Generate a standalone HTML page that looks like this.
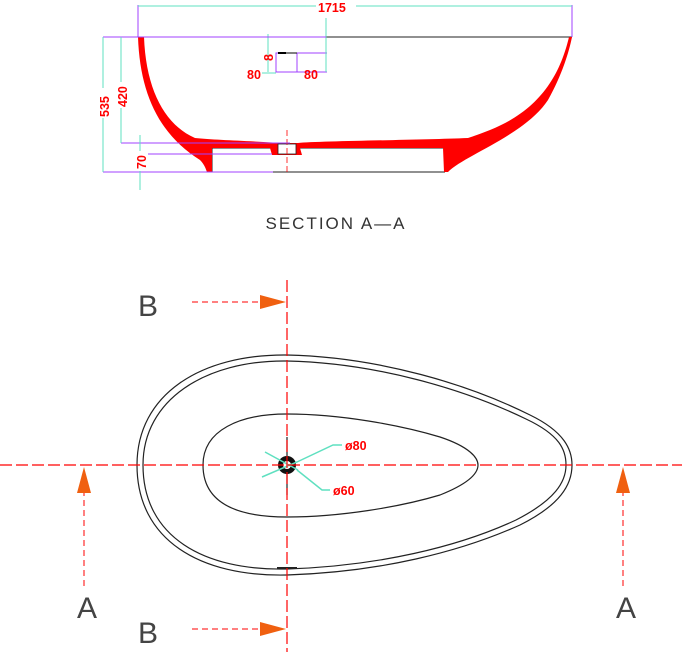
<!DOCTYPE html>
<html><head><meta charset="utf-8"><style>
html,body{margin:0;padding:0;background:#fff;}
svg{display:block;}
text{font-family:"Liberation Sans",sans-serif;}
.d{font-weight:bold;fill:#f00;font-size:12.5px;}
</style></head><body>
<svg width="682" height="652" viewBox="0 0 682 652" xmlns="http://www.w3.org/2000/svg">
<g fill="none" stroke-width="1">
 <line x1="138" y1="37" x2="572" y2="37" stroke="#222"/>
 <line x1="273" y1="172" x2="445" y2="172" stroke="#222"/>
 <path d="M212,148 L212,172 M445,148 L445,172 M212,148 L272,148 M300,148 L445,148" stroke="#222"/>
</g>
<path d="M138,37 C140,95 160,135 200,160 C205,165 206,170 207,172 L212,172 L212,148 L270,148 L272,155 L302,155 L300,148 L443,148 L444,172 L448,172 C465,155 525,135 548,100 C562,75 569,52 572,37 L569,37 C560,75 540,110 490,130 C480,134 474,136 468,138 C420,140 320,141 298,143 L282,143 C250,141 215,140 195,138 C165,125 146,90 144,37 Z" fill="#f00"/>
<rect x="278" y="144" width="18" height="10" fill="#fff" stroke="#222" stroke-width="0.8"/>
<line x1="287" y1="130" x2="287" y2="175" stroke="#f00" stroke-dasharray="6,3" stroke-width="0.8"/>
<rect x="276" y="53" width="21" height="19" fill="none" stroke="#a040ff" stroke-width="1"/>
<line x1="278" y1="53" x2="286" y2="53" stroke="#000" stroke-width="2"/>
<line x1="286" y1="53" x2="297" y2="53" stroke="#000" stroke-width="1"/>
<path d="M297,53 L327,53 M327,72 L297,72" stroke="#a040ff" fill="none"/>
<line x1="326" y1="18" x2="326" y2="72" stroke="#5fe0c0"/>
<line x1="268" y1="34" x2="268" y2="72" stroke="#5fe0c0"/>
<line x1="262" y1="73" x2="276" y2="73" stroke="#5fe0c0"/>
<text class="d" x="247" y="79">80</text>
<text class="d" x="304" y="79">80</text>
<text class="d" transform="translate(273,61) rotate(-90)">8</text>
<g stroke="#a040ff" fill="none">
 <line x1="138" y1="5" x2="138" y2="37"/><line x1="572" y1="5" x2="572" y2="37"/>
 <line x1="103" y1="37" x2="326" y2="37"/>
 <line x1="121" y1="143" x2="290" y2="143"/>
 <line x1="140" y1="154" x2="272" y2="154"/>
 <line x1="103" y1="172" x2="273" y2="172"/>
</g>
<g stroke="#5fe0c0" fill="none">
 <line x1="138" y1="6" x2="572" y2="6"/>
 <line x1="103" y1="37" x2="103" y2="172"/>
 <line x1="121" y1="37" x2="121" y2="143"/>
 <line x1="140" y1="135" x2="140" y2="190"/>
</g>
<rect x="316" y="0" width="40" height="13" fill="#fff"/>
<text class="d" x="318" y="12">1715</text>
<rect x="96" y="88" width="15" height="30" fill="#fff"/>
<text class="d" transform="translate(109,117) rotate(-90)">535</text>
<rect x="114" y="82" width="15" height="26" fill="#fff"/>
<text class="d" transform="translate(127,107) rotate(-90)">420</text>
<rect x="133" y="151" width="15" height="20" fill="#fff"/>
<text class="d" transform="translate(146,169) rotate(-90)">70</text>
<text x="336" y="229" text-anchor="middle" font-size="17" letter-spacing="2" fill="#333">SECTION A—A</text>
<g fill="none" stroke="#222" stroke-width="1.2">
 <path d="M137,465 C137,395 200,354 287,355 C380,357 470,385 530,415 C565,432 572,450 572,465 C572,485 560,505 520,525 C460,552 380,572 287,575 C200,577 137,540 137,465 Z"/>
 <path d="M143,465 C143,400 205,360 287,361 C378,363 466,390 526,419 C560,435 566,450 566,465 C566,482 555,500 516,520 C458,547 378,566 287,569 C204,571 143,537 143,465 Z"/>
 <path d="M203,465 C203,430 240,414 287,414 C340,414 400,425 440,437 C470,447 478,458 478,465 C478,475 465,485 440,495 C400,507 340,517 287,517 C240,517 203,505 203,465 Z"/>
 <line x1="287" y1="437" x2="287" y2="495"/>
 <line x1="277" y1="568" x2="297" y2="568" stroke-width="2"/>
</g>
<circle cx="287" cy="465" r="9" fill="#111"/>
<circle cx="287" cy="465" r="4" fill="#fff"/>
<g stroke="#5fe0c0" stroke-width="1.5" fill="none">
 <path d="M265,452 L298,470 M262,477 L297,462 L333,445 L342,445"/>
 <path d="M297,470 L322,490 L330,490"/>
</g>
<text class="d" x="345" y="450">ø80</text>
<text class="d" x="333" y="495">ø60</text>
<g stroke="#f00" stroke-width="1.2" stroke-dasharray="12,4" fill="none">
 <line x1="0" y1="465" x2="682" y2="465"/>
 <line x1="287" y1="280" x2="287" y2="652"/>
</g>
<g stroke="#f00" stroke-width="1" stroke-dasharray="6,4" fill="none">
 <line x1="192" y1="302" x2="262" y2="302"/>
 <line x1="192" y1="629" x2="262" y2="629"/>
 <line x1="84" y1="490" x2="84" y2="590"/>
 <line x1="623" y1="490" x2="623" y2="590"/>
</g>
<g fill="#f06010">
 <polygon points="260,295 286,302 260,309"/>
 <polygon points="260,622 286,629 260,636"/>
 <polygon points="77,493 84,467 91,493"/>
 <polygon points="616,493 623,467 630,493"/>
</g>
<g font-size="30" fill="#444" text-anchor="middle">
 <text x="148" y="316">B</text>
 <text x="148" y="643">B</text>
 <text x="87" y="618">A</text>
 <text x="626" y="618">A</text>
</g>
</svg>
</body></html>
